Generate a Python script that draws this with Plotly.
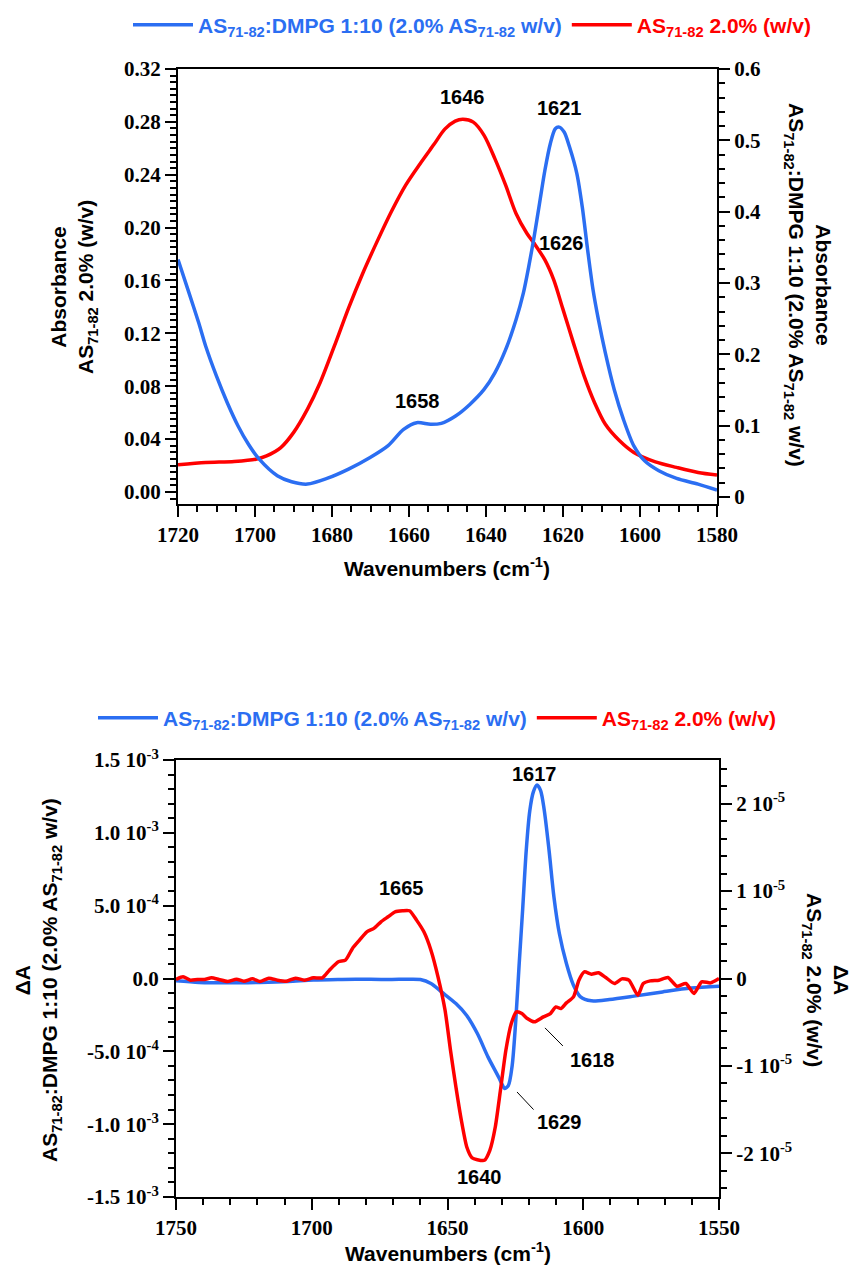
import plotly.graph_objects as go

# ---------------- Absorbance spectra (amide I region) ----------------
# AS71-82 : DMPG 1:10 (2.0% AS71-82 w/v), right-hand absorbance axis
wn_abs_mix = [1720, 1717.4, 1714.6, 1712.8, 1710, 1707.2, 1704.4, 1701.7, 1698.9, 1694.2,
              1690.5, 1686.4, 1681.3, 1675.7, 1670.1, 1665.5, 1661.4, 1658, 1654.4, 1651.6,
              1647.9, 1644.2, 1640.5, 1637.7, 1634.9, 1632.2, 1630.3, 1628.9, 1627.5, 1626.1,
              1624.7, 1623.3, 1622, 1621, 1619.7, 1618.3, 1616.4, 1615, 1613.6, 1612.2,
              1610.8, 1609, 1606.7, 1604.3, 1601.6, 1598.8, 1595.1, 1590.5, 1584.9, 1580]
abs_mix = [0.333, 0.2904, 0.2439, 0.2113, 0.1694, 0.1322, 0.0996, 0.0740, 0.0530, 0.0298,
           0.0214, 0.0181, 0.0260, 0.0391, 0.0554, 0.0717, 0.0949, 0.1042, 0.1019, 0.1033,
           0.1136, 0.1298, 0.1508, 0.1741, 0.2066, 0.2486, 0.2858, 0.3230, 0.3649, 0.4115,
           0.4580, 0.4953, 0.5162, 0.5185, 0.5116, 0.4906, 0.4534, 0.4068, 0.3463, 0.2905,
           0.2486, 0.2020, 0.1508, 0.1089, 0.0717, 0.0507, 0.0368, 0.0260, 0.0181, 0.0097]

# AS71-82 2.0% (w/v), left-hand absorbance axis
wn_abs_pep = [1720, 1712.8, 1705.4, 1699.8, 1697, 1693.3, 1690, 1686.4, 1683.1, 1679.4,
              1675.7, 1672, 1668.3, 1664.6, 1660.9, 1657.2, 1653.5, 1650.7, 1648, 1646,
              1643.3, 1640.5, 1637.7, 1634.9, 1632.2, 1629.4, 1627.5, 1624.7, 1622.4, 1620.1,
              1617.3, 1614.5, 1611.8, 1609, 1605.3, 1601.6, 1596, 1590.5, 1584.9, 1580]
abs_pep = [0.0206, 0.0223, 0.0231, 0.0248, 0.0273, 0.0336, 0.0449, 0.0625, 0.0826, 0.1103,
           0.1391, 0.1655, 0.1894, 0.2120, 0.2320, 0.2480, 0.2630, 0.2745, 0.2806, 0.2820,
           0.2798, 0.2698, 0.2522, 0.2321, 0.2107, 0.1957, 0.1881, 0.1756, 0.1605, 0.1391,
           0.1128, 0.0876, 0.0675, 0.0512, 0.0387, 0.0299, 0.0228, 0.0186, 0.0148, 0.0128]

# ---------------- Difference spectra ----------------
# AS71-82 : DMPG, left axis (units of 1e-3)
wn_diff_mix = [1750, 1741.5, 1731, 1719.1, 1708.6, 1699.4, 1688.9, 1678.4, 1670.5, 1665.3,
               1660, 1656.1, 1652.2, 1646.9, 1643, 1639, 1635.1, 1631.2, 1629.8, 1629,
               1627.6, 1626.2, 1624.9, 1623.6, 1622.3, 1621, 1619.7, 1618.4, 1617, 1615.7,
               1614.4, 1612.6, 1610.8, 1608.8, 1606.2, 1603.6, 1601, 1597, 1590.4, 1581.3,
               1570.8, 1560.3, 1550]
diff_mix_e3 = [-0.016, -0.027, -0.030, -0.027, -0.021, -0.011, -0.007, -0.005, -0.007, -0.005,
               -0.007, -0.034, -0.092, -0.172, -0.252, -0.378, -0.538, -0.676, -0.730, -0.755,
               -0.735, -0.600, -0.300, 0.100, 0.480, 0.880, 1.150, 1.280, 1.328, 1.290,
               1.160, 0.880, 0.560, 0.309, 0.103, -0.046, -0.126, -0.153, -0.144, -0.121,
               -0.092, -0.066, -0.053]
diff_mix = [v * 1e-3 for v in diff_mix_e3]

# AS71-82 2.0% (w/v), right axis (units of 1e-5)
wn_diff_pep = [1750, 1747.4, 1744.7, 1742.1, 1739.5, 1736.9, 1734.2, 1731, 1727.7, 1725,
               1721.8, 1719.1, 1715.8, 1712.6, 1709.3, 1706, 1702.7, 1699.4, 1696.1, 1693.5,
               1690.2, 1687.6, 1685, 1682.4, 1679.7, 1677.1, 1674.5, 1671.9, 1669.3, 1666.6,
               1664, 1661.4, 1658.7, 1656.1, 1653.5, 1650.9, 1648.9, 1646.9, 1644.9, 1642.9,
               1641, 1639, 1636.4, 1634.4, 1632.4, 1630.5, 1628.5, 1626.5, 1624.6, 1622.6,
               1620.6, 1618, 1614.7, 1612.1, 1610.1, 1608.2, 1606.2, 1603.6, 1601.6, 1599.6,
               1597, 1594.4, 1591.7, 1588.5, 1585.8, 1583.2, 1579.9, 1577.9, 1575.3, 1572.1,
               1568.8, 1565.5, 1562.2, 1559.2, 1556.4, 1553.1, 1550]
diff_pep_e5 = [-0.011, 0.019, -0.019, -0.011, -0.011, 0.008, -0.011, -0.034, -0.008, -0.031,
               -0.004, -0.034, 0.004, -0.019, -0.031, 0.004, -0.019, 0.008, 0.008, 0.095,
               0.191, 0.210, 0.344, 0.439, 0.534, 0.573, 0.649, 0.706, 0.763, 0.775,
               0.775, 0.668, 0.534, 0.324, 0.019, -0.363, -0.821, -1.241, -1.622, -1.928,
               -2.050, -2.073, -2.080, -1.966, -1.699, -1.279, -0.821, -0.515, -0.382, -0.401,
               -0.458, -0.496, -0.439, -0.401, -0.325, -0.344, -0.279, -0.210, -0.019, 0.076,
               0.050, 0.065, 0.011, -0.057, -0.004, -0.019, -0.191, -0.057, -0.027, -0.019,
               0.011, -0.088, -0.057, -0.172, -0.038, -0.050, 0.000]
diff_pep = [v * 1e-5 for v in diff_pep_e5]

# ---------------- Tick labels ----------------
abs_right_ticks = [0, 0.1, 0.2, 0.3, 0.4, 0.5, 0.6]
abs_right_text = ["0", "0.1", "0.2", "0.3", "0.4", "0.5", "0.6"]
diff_left_ticks = [-1.5e-3, -1.0e-3, -5e-4, 0, 5e-4, 1.0e-3, 1.5e-3]
diff_left_text = ["-1.5 10<sup>-3</sup>", "-1.0 10<sup>-3</sup>", "-5.0 10<sup>-4</sup>", "0.0",
                  "5.0 10<sup>-4</sup>", "1.0 10<sup>-3</sup>", "1.5 10<sup>-3</sup>"]
diff_right_ticks = [-2e-5, -1e-5, 0, 1e-5, 2e-5]
diff_right_text = ["-2 10<sup>-5</sup>", "-1 10<sup>-5</sup>", "0", "1 10<sup>-5</sup>", "2 10<sup>-5</sup>"]

# ---------------- Peak labels ----------------
abs_labels = [("1646", 1646, 0.299), ("1621", 1621, 0.2906), ("1626", 1620.3, 0.1886), ("1658", 1657.9, 0.0688)]
diff_labels = [("1617", 1617.8, 1.404e-3), ("1665", 1666.9, 0.619e-3), ("1640", 1638.3, -1.363e-3),
               ("1618", 1596.6, -0.561e-3), ("1629", 1608.9, -0.985e-3)]
diff_leaders = [((1614.1, -0.339e-3), (1607.5, -0.463e-3)), ((1624.4, -0.779e-3), (1618.3, -0.900e-3))]

BLUE = "#2B6EF2"
RED = "#FF0000"
W, H = 852, 1268
SANS = "Liberation Sans"
SERIF = "Liberation Serif"

name_mix = "AS<sub>71-82</sub>:DMPG 1:10 (2.0% AS<sub>71-82</sub> w/v)"
name_pep = "<span style='color:" + RED + "'>AS<sub>71-82</sub> 2.0% (w/v)</span>"

fig = go.Figure()
fig.add_trace(go.Scatter(x=wn_abs_mix, y=abs_mix, mode="lines", name=name_mix,
                         line=dict(color=BLUE, width=3.5, shape="spline", smoothing=0.8),
                         xaxis="x", yaxis="y2", legend="legend"))
fig.add_trace(go.Scatter(x=wn_abs_pep, y=abs_pep, mode="lines", name=name_pep,
                         line=dict(color=RED, width=3.5, shape="spline", smoothing=0.8),
                         xaxis="x", yaxis="y", legend="legend"))
fig.add_trace(go.Scatter(x=wn_diff_mix, y=diff_mix, mode="lines", name=name_mix,
                         line=dict(color=BLUE, width=3.5, shape="spline", smoothing=0.8),
                         xaxis="x2", yaxis="y3", legend="legend2"))
fig.add_trace(go.Scatter(x=wn_diff_pep, y=diff_pep, mode="lines", name=name_pep,
                         line=dict(color=RED, width=3.5, shape="spline", smoothing=0.6),
                         xaxis="x2", yaxis="y4", legend="legend2"))

tickfont = dict(family=SERIF, size=21, color="black", weight="bold")


def axis_style(**kw):
    base = dict(showline=True, linewidth=2, linecolor="black", ticks="outside", ticklen=11,
                tickwidth=2, tickcolor="black", showgrid=False, zeroline=False, tickfont=tickfont,
                automargin=False)
    base.update(kw)
    return base


def minor(dt):
    return dict(ticks="outside", ticklen=6, tickwidth=2, tickcolor="black", tickmode="linear",
                tick0=0, dtick=dt, showgrid=False)


top_dom = [1 - 504 / H, 1 - 69 / H]
bot_dom = [1 - 1197 / H, 1 - 760 / H]

fig.update_layout(
    width=W, height=H, template="none",
    margin=dict(l=0, r=0, t=0, b=0),
    paper_bgcolor="white", plot_bgcolor="white",
    xaxis=axis_style(domain=[178 / W, 717 / W], anchor="y", range=[1720, 1580],
                     tick0=1720, dtick=20, mirror=True, minor=minor(5)),
    yaxis=axis_style(domain=top_dom, anchor="x", range=[-0.0091, 0.32], tick0=0, dtick=0.04,
                     tickformat=".2f", minor=minor(0.005)),
    yaxis2=axis_style(overlaying="y", side="right", anchor="x", range=[-0.0098, 0.6],
                      tickmode="array", tickvals=abs_right_ticks, ticktext=abs_right_text,
                      minor=minor(0.02)),
    xaxis2=axis_style(domain=[176 / W, 719 / W], anchor="y3", range=[1750, 1550],
                      tick0=1750, dtick=50, mirror=True, minor=minor(10)),
    yaxis3=axis_style(domain=bot_dom, anchor="x2", range=[-1.5e-3, 1.5e-3],
                      tickmode="array", tickvals=diff_left_ticks, ticktext=diff_left_text,
                      minor=minor(1e-4)),
    yaxis4=axis_style(overlaying="y3", side="right", anchor="x2", range=[-2.5e-5, 2.5e-5],
                      tickmode="array", tickvals=diff_right_ticks, ticktext=diff_right_text,
                      minor=minor(2e-6)),
    legend=dict(orientation="h", x=128 / W, xanchor="left", y=1 - 25 / H, yanchor="middle",
                font=dict(family=SANS, size=21, color=BLUE, weight="bold"),
                bgcolor="rgba(0,0,0,0)", itemwidth=60, tracegroupgap=0),
    legend2=dict(orientation="h", x=93 / W, xanchor="left", y=1 - 718 / H, yanchor="middle",
                 font=dict(family=SANS, size=21, color=BLUE, weight="bold"),
                 bgcolor="rgba(0,0,0,0)", itemwidth=60, tracegroupgap=0),
    showlegend=True,
)

ann_font = dict(family=SANS, size=20, color="black", weight="bold")
title_font = dict(family=SANS, size=21, color="black", weight="bold")
annotations = []
for txt, x, y in abs_labels:
    annotations.append(dict(text=txt, x=x, y=y, xref="x", yref="y", showarrow=False, font=ann_font,
                            xanchor="center", yanchor="middle"))
for txt, x, y in diff_labels:
    annotations.append(dict(text=txt, x=x, y=y, xref="x2", yref="y3", showarrow=False, font=ann_font,
                            xanchor="center", yanchor="middle"))

# axis titles (paper coordinates, centred on their anchor points)
wn_title = "Wavenumbers (cm<sup>-1</sup>)"
titles = [
    (wn_title, 447, 567, 0),
    (wn_title, 448, 1252, 0),
    ("Absorbance<br>AS<sub>71-82</sub> 2.0% (w/v)", 74, 287, -90),
    ("Absorbance<br>AS<sub>71-82</sub>:DMPG 1:10 (2.0% AS<sub>71-82</sub> w/v)", 808, 285, 90),
    ("ΔA<br>AS<sub>71-82</sub>:DMPG 1:10 (2.0% AS<sub>71-82</sub> w/v)", 38, 980, -90),
    ("ΔA<br>AS<sub>71-82</sub> 2.0% (w/v)", 826, 980, 90),
]
for txt, px, py, ang in titles:
    annotations.append(dict(text=txt, x=px / W, y=1 - py / H, xref="paper", yref="paper",
                            showarrow=False, textangle=ang, font=title_font,
                            xanchor="center", yanchor="middle"))
fig.update_layout(annotations=annotations)

for (x0, y0), (x1, y1) in diff_leaders:
    fig.add_shape(type="line", x0=x0, y0=y0, x1=x1, y1=y1, xref="x2", yref="y3",
                  line=dict(color="black", width=1))

fig.write_html("out.html")
